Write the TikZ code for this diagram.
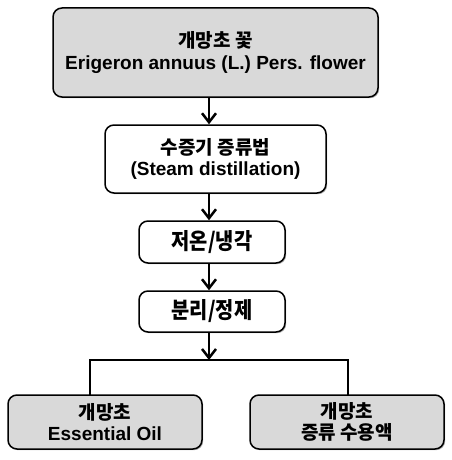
\documentclass[tikz,border=0pt]{standalone}
\usepackage{fontspec}
\setmainfont{Liberation Sans}
\newfontfamily\kr{Noto Sans CJK KR}
\newfontfamily\krn{Noto Sans CJK KR}[FakeStretch=0.88]
\usetikzlibrary{arrows.meta,shadows}
\definecolor{boxgray}{RGB}{217,217,217}
\begin{document}
\begin{tikzpicture}[x=1pt,y=-1pt,
  box/.style={draw=black, line width=1.5pt, rounded corners=9pt, align=center,
    inner sep=0pt, fill=white, font=\fontsize{19}{21.5}\selectfont\bfseries,
    drop shadow={shadow xshift=1.2pt, shadow yshift=-1.2pt, fill=black!60, opacity=0.5}},
  graybox/.style={box, fill=boxgray},
  bigkr/.style={font=\fontsize{22.5}{26}\selectfont\krn\bfseries},
  flow/.style={line width=2.5pt, -{Straight Barb[length=9pt,width=14pt,line width=2.5pt]}},
  link/.style={line width=2.5pt}
]
\useasboundingbox (0,0) rectangle (451,460);
\coordinate (ax) at (209,0);
\node[graybox, minimum width=325pt, minimum height=89pt] (top) at (215.5,52.5)
  {{\kr 개망초 꽃}\\Erigeron annuus (L.) Pers. flower};
\node[box, minimum width=221pt, minimum height=68pt] (steam) at (215.5,159)
  {{\kr 수증기 증류법}\\(Steam distillation)};
\node[box, bigkr, minimum width=146pt, minimum height=42pt] (cool) at (212,242) {\raisebox{-2pt}{저온/냉각}};
\node[box, bigkr, minimum width=146pt, minimum height=41pt] (sep) at (212,311.5) {\raisebox{-2pt}{분리/정제}};
\node[graybox, minimum width=194pt, minimum height=54pt] (oil) at (105,422)
  {{\kr 개망초}\\Essential Oil};
\node[graybox, minimum width=194pt, minimum height=54pt] (water) at (347,422)
  {{\kr 개망초}\\{\kr 증류 수용액}};
\coordinate (jc) at (209,360);
\coordinate (jl) at (90,360);
\coordinate (jr) at (348,360);
\draw[flow] (top.south -| ax) -- (steam.north -| ax);
\draw[flow] (steam.south -| ax) -- (cool.north -| ax);
\draw[flow] (cool.south -| ax) -- (sep.north -| ax);
\draw[flow] (sep.south -| ax) -- (jc);
\draw[link, line cap=rect] (oil.north -| jl) -- (jl) -- (jr) -- (water.north -| jr);
\end{tikzpicture}
\end{document}
